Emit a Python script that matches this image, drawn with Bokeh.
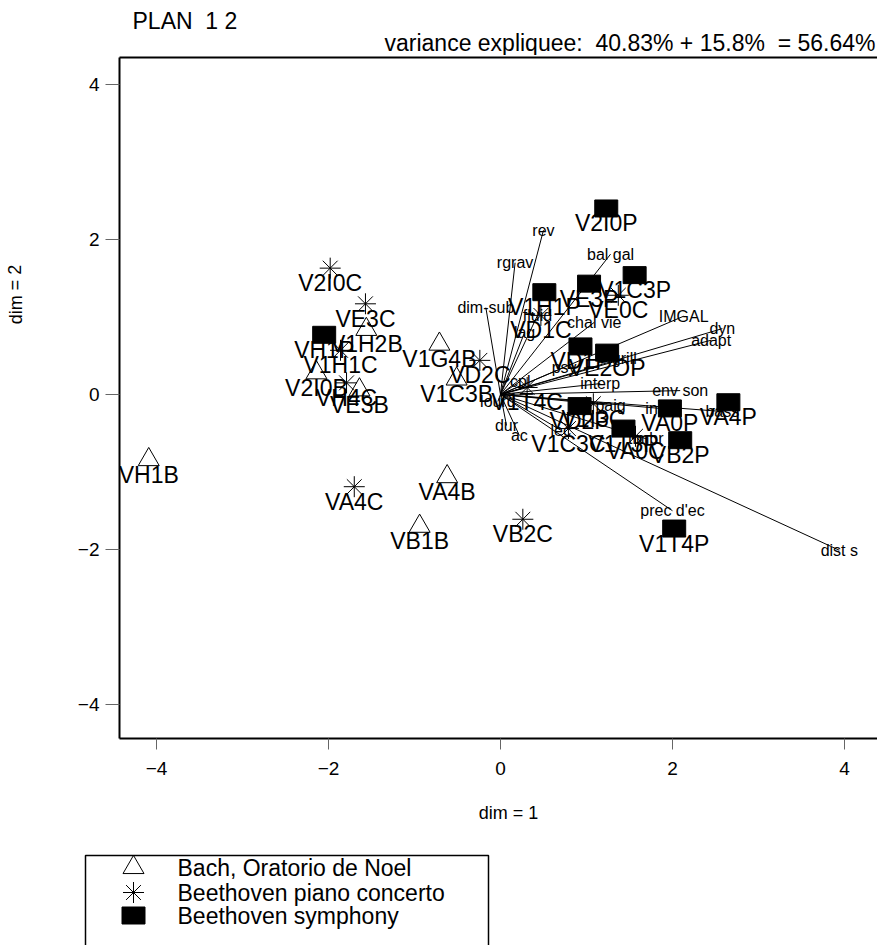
from bokeh.plotting import figure
from bokeh.models import Range1d, LinearAxis, FixedTicker, ColumnDataSource
from bokeh.layouts import column, row
from bokeh.embed import file_html
from bokeh.resources import INLINE
from bokeh.core.properties import value

# ---------------- data ----------------
groups = ["Bach, Oratorio de Noel", "Beethoven piano concerto", "Beethoven symphony"]

bach_names = ["VH1B", "VB1B", "VA4B", "V1G4B", "V1H2B", "V2I0B", "VE3B", "V1C3B"]
bach_x = [-4.09, -0.94, -0.62, -0.71, -1.56, -2.14, -1.64, -0.51]
bach_y = [-0.84, -1.70, -1.06, 0.65, 0.84, 0.28, 0.06, 0.20]

conc_names = ["V2I0C", "VE3C", "V1H1C", "VH4C", "VD2C", "VA4C", "VB2C", "VE0C",
              "VD1C", "V1T4C", "V1I3C", "VA0C", "V1C3C"]
conc_x = [-1.98, -1.57, -1.86, -1.79, -0.24, -1.70, 0.26, 1.37, 0.47, 0.31, 1.08, 1.57, 0.79]
conc_y = [1.63, 1.17, 0.57, 0.15, 0.44, -1.19, -1.61, 1.28, 1.02, 0.09, -0.12, -0.54, -0.44]

symph_names = ["V2I0P", "V1C3P", "VE3P", "V1H1P", "VH1P", "VD1P", "VE2OP", "VD2P",
               "VA0P", "VA4P", "V1T3P", "VB2P", "V1T4P"]
symph_x = [1.23, 1.56, 1.03, 0.51, -2.05, 0.93, 1.24, 0.92, 1.97, 2.65, 1.43, 2.09, 2.02]
symph_y = [2.40, 1.54, 1.43, 1.32, 0.77, 0.62, 0.54, -0.15, -0.18, -0.10, -0.44, -0.59, -1.73]

var_names = ["rev", "rgrav", "bal gal", "dim-sub", "fluid", "lag", "chal vie", "IMGAL",
             "dyn", "adapt", "grill", "psy", "interp", "env son", "paig", "instr", "bass",
             "timbr", "prec d'ec", "dist s", "lec", "ac", "dur", "lourd", "cpl"]
var_x = [0.50, 0.17, 1.28, -0.17, 0.43, 0.28, 1.09, 2.13, 2.58, 2.45, 1.44, 0.74, 1.16,
         2.09, 1.28, 1.86, 2.58, 1.69, 2.00, 3.94, 0.70, 0.22, 0.07, -0.03, 0.23]
var_y = [2.12, 1.70, 1.81, 1.12, 1.02, 0.80, 0.93, 1.01, 0.85, 0.70, 0.46, 0.35, 0.14,
         0.05, -0.14, -0.18, -0.22, -0.57, -1.50, -2.01, -0.46, -0.53, -0.40, -0.09, 0.17]

x_ticks = [-4, -2, 0, 2, 4]
y_ticks = [-4, -2, 0, 2, 4]

NB = "\u00a0"
title_text = "PLAN" + NB + NB + "1" + NB + "2"
variance_text = ("variance expliquee:" + NB + NB + "40.83%" + NB + "+" + NB + "15.8%"
                 + NB + NB + "=" + NB + "56.64%")
xlab = "dim = 1"
ylab = "dim = 2"

FONT = "Liberation Sans"


def blank(width, height):
    """A figure whose frame fills the canvas, with pixel-like ranges (for page furniture)."""
    f = figure(width=width, height=height, output_backend="svg", toolbar_location=None,
               x_range=Range1d(0, width), y_range=Range1d(0, height),
               x_axis_location=None, y_axis_location=None, min_border=0)
    f.outline_line_color = None
    f.grid.visible = False
    return f


# ---------------- header ----------------
header = blank(877, 55)
header.text(x=[132], y=[35], text=[title_text], text_font=value(FONT), text_font_size="23px",
            text_baseline="middle", text_align="left", text_color="black")
header.text(x=[875], y=[13], text=[variance_text], text_font=value(FONT), text_font_size="23px",
            text_baseline="middle", text_align="right", text_color="black")

# ---------------- left strip (y label) ----------------
strip = blank(30, 733)
strip.text(x=[15], y=[478], text=[ylab], text_font=value(FONT), text_font_size="18px",
           text_baseline="middle", text_align="center", angle=1.5708, text_color="black")

# ---------------- main plot ----------------
p = figure(width=847, height=733, output_backend="svg", toolbar_location=None,
           x_range=Range1d(-4.430, 4.384), y_range=Range1d(-4.439, 4.348),
           min_border_left=89, min_border_right=0, min_border_top=2, min_border_bottom=50)
p.outline_line_color = None
p.grid.visible = False

for ax in (p.xaxis[0], p.yaxis[0]):
    ax.axis_line_width = 2
    ax.axis_line_color = "black"
    ax.major_tick_in = 0
    ax.major_tick_line_color = "#666666"
    ax.minor_tick_line_color = None
    ax.major_label_text_font = FONT
    ax.major_label_text_font_size = "19px"
    ax.major_label_text_color = "black"
p.xaxis[0].ticker = FixedTicker(ticks=x_ticks)
p.yaxis[0].ticker = FixedTicker(ticks=y_ticks)
p.xaxis[0].major_tick_out = 11
p.xaxis[0].major_label_standoff = 12
p.yaxis[0].major_tick_out = 14
p.yaxis[0].major_label_standoff = 6

top = LinearAxis(ticker=FixedTicker(ticks=[]), axis_line_width=2, axis_line_color="black",
                 major_tick_line_color=None, minor_tick_line_color=None,
                 major_tick_out=0, major_tick_in=0, major_label_standoff=0,
                 major_label_text_font_size="0px")
p.add_layout(top, "above")

# variable vectors
vsrc = ColumnDataSource(dict(x0=[0.0] * len(var_x), y0=[0.0] * len(var_y),
                             x1=var_x, y1=var_y, name=var_names))
p.segment(x0="x0", y0="y0", x1="x1", y1="y1", source=vsrc, line_color="black", line_width=1)
p.text(x="x1", y="y1", text="name", source=vsrc, text_font=value(FONT), text_font_size="16px",
       text_align="center", text_baseline="middle", text_color="black")

# individuals
bsrc = ColumnDataSource(dict(x=bach_x, y=bach_y, name=bach_names))
csrc = ColumnDataSource(dict(x=conc_x, y=conc_y, name=conc_names))
ssrc = ColumnDataSource(dict(x=symph_x, y=symph_y, name=symph_names))

p.scatter(x="x", y="y", source=bsrc, marker="triangle", size=21, fill_alpha=0,
          line_color="black", line_width=1)
p.scatter(x="x", y="y", source=csrc, marker="asterisk", size=21,
          line_color="black", line_width=1)
p.rect(x="x", y="y", source=ssrc, width=23, height=17, width_units="screen",
       height_units="screen", fill_color="black", line_color="black")

for src in (bsrc, csrc, ssrc):
    p.text(x="x", y="y", text="name", source=src, text_font=value(FONT), text_font_size="23px",
           text_align="center", text_baseline="middle", y_offset=15, text_color="black")

# ---------------- bottom: x label + legend ----------------
bottom = blank(877, 157)
bottom.text(x=[508], y=[133], text=[xlab], text_font=value(FONT), text_font_size="18px",
            text_baseline="middle", text_align="center", text_color="black")
bottom.line(x=[85, 85, 488, 488], y=[-5, 90, 90, -5], line_color="black", line_width=1.5)
rows = [78, 53, 30]
mx = 133
bottom.scatter(x=[mx], y=[rows[0]], marker="triangle", size=21, fill_alpha=0, line_color="black")
bottom.scatter(x=[mx], y=[rows[1]], marker="asterisk", size=21, line_color="black")
bottom.rect(x=[mx], y=[rows[2]], width=23, height=17, fill_color="black", line_color="black")
bottom.text(x=[177] * len(groups), y=rows, text=groups, text_font=value(FONT),
            text_font_size="23px", text_baseline="middle", text_color="black")

layout = column(header, row(strip, p, spacing=0), bottom, spacing=0)
open("out.html", "w").write(file_html(layout, INLINE))
